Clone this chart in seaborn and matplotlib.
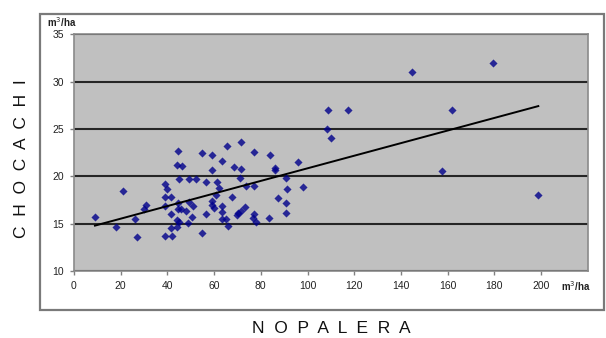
import numpy as np
import matplotlib
matplotlib.use("Agg")
import matplotlib.pyplot as plt
import seaborn as sns
from matplotlib.patches import Rectangle

# volumes (m3/ha)
nopalera = [9, 18, 21, 26, 27, 30, 31, 39, 40, 39, 41.5, 39, 39, 41.8, 41.5, 41.5,
            44.5, 44.1, 46.1, 44.8, 49.1, 52.1, 44.5, 44.5, 45.8, 47.8, 44.1, 44.8,
            44.1, 48.8, 49.1, 50.8, 50.5, 54.8, 59.1, 59.1, 56.4, 61.4, 62.2, 60.7,
            59.1, 59.1, 60.1, 56.4, 54.9, 63.4, 65.4, 63.4, 63.4, 63.4, 65.1, 66.1,
            67.7, 68.7, 71.4, 71.4, 71.0, 73.7, 73.4, 71.4, 70.4, 69.7, 77.0, 77.0,
            77.0, 76.7, 78.0, 84.0, 86.0, 86.0, 87.3, 83.3, 90.6, 91.3, 90.6, 90.6,
            95.9, 97.9, 108.9, 117.2, 108.4, 110.0, 144.7, 179.4, 161.7, 157.5, 198.8]
chocachi = [15.7, 14.7, 18.5, 15.5, 13.6, 16.6, 17.0, 19.2, 18.7, 17.8, 17.8, 16.9,
            13.7, 13.7, 14.5, 16.0, 22.7, 21.2, 21.1, 19.7, 19.7, 19.7, 17.2, 16.6,
            16.5, 16.3, 15.4, 15.2, 14.7, 15.1, 17.3, 16.9, 15.7, 22.5, 22.2, 20.7,
            19.4, 19.4, 18.8, 18.0, 17.4, 17.0, 16.7, 16.0, 14.0, 21.6, 23.2, 16.9,
            16.2, 15.5, 15.5, 14.8, 17.8, 21.0, 23.6, 20.8, 19.8, 19.0, 16.8, 16.3,
            16.1, 15.9, 22.6, 19.0, 16.0, 15.6, 15.2, 22.3, 20.9, 20.7, 17.7, 15.6,
            19.8, 18.7, 17.2, 16.1, 21.5, 18.9, 27.0, 27.0, 25.0, 24.0, 31.0, 32.0,
            27.0, 20.6, 18.0]

x_ticks = [0, 20, 40, 60, 80, 100, 120, 140, 160, 180, 200]
y_ticks = [10, 15, 20, 25, 30, 35]

plt.rcParams['font.family'] = ['Liberation Sans', 'DejaVu Sans']

fig = plt.figure(figsize=(6.06, 3.38), dpi=100)
fig.patches.append(Rectangle((0.066, 0.083), 0.93, 0.876, transform=fig.transFigure,
                             fill=False, edgecolor='#7a7a7a', linewidth=1.6))
ax = fig.add_axes([0.122, 0.198, 0.848, 0.701])
ax.set_facecolor('#c0c0c0')

sns.regplot(x=nopalera, y=chocachi, ax=ax, ci=None, marker='D',
            scatter_kws={'s': 17, 'color': '#00008b', 'linewidths': 0, 'zorder': 3},
            line_kws={'color': 'black', 'linewidth': 1.4, 'zorder': 4})

ax.set_xlim(0, 220)
ax.set_ylim(10, 35)
ax.set_xticks(x_ticks)
ax.set_yticks(y_ticks)
ax.yaxis.grid(True, color='#262626', linewidth=1.5)
ax.set_axisbelow(True)
for s in ax.spines.values():
    s.set_color('#8a8a8a')
    s.set_linewidth(1.2)
ax.tick_params(axis='both', labelsize=7.5, colors='#808080', labelcolor='#222222',
               length=3, width=1, pad=4)

fig.text(0.078, 0.935, 'm$^3$/ha', fontsize=7, fontweight='bold', color='#222222',
         ha='left', va='center')
fig.text(0.925, 0.155, 'm$^3$/ha', fontsize=7, fontweight='bold', color='#222222',
         ha='left', va='center')
fig.text(0.035, 0.53, 'C  H  O  C  A  C  H  I', rotation=90, fontsize=12.5,
         ha='center', va='center', color='#111111')
fig.text(0.547, 0.028, 'N  O  P  A  L  E  R  A', fontsize=12.5,
         ha='center', va='center', color='#111111')

fig.savefig('out.png', dpi=100)
